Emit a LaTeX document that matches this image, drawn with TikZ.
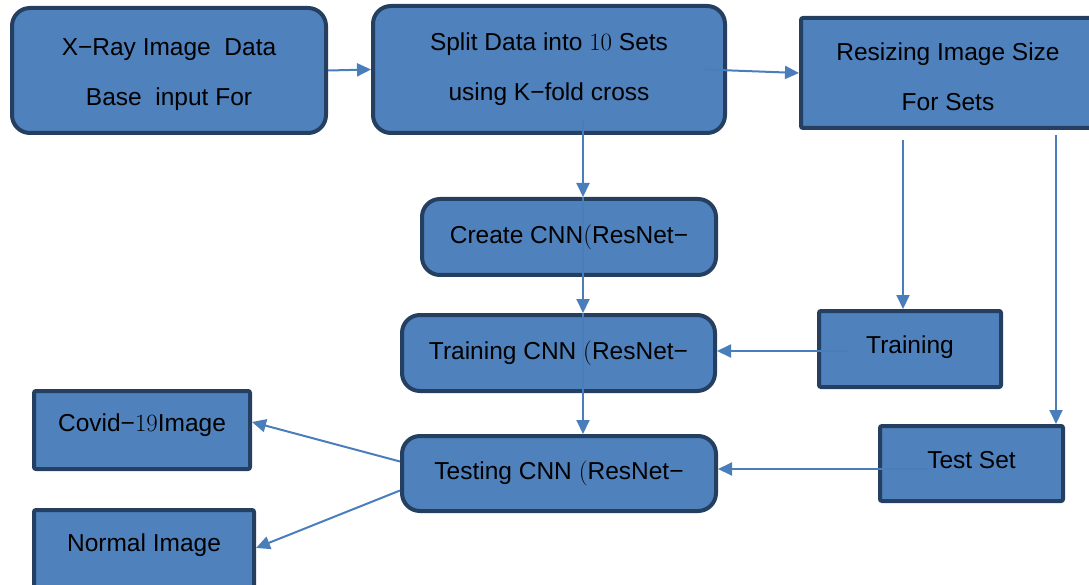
\documentclass[tikz,border=0pt]{standalone}
\usepackage{fontspec}
\setmainfont{Liberation Sans}
\usetikzlibrary{arrows.meta}
\definecolor{boxfill}{HTML}{4F81BD}
\definecolor{boxline}{HTML}{243F60}
\definecolor{flowline}{HTML}{4A7EBB}
% shift the ink of a text line but keep its size
\newcommand{\nudge}[2]{\raisebox{#1}[\height][\depth]{#2}}

\begin{document}
\begin{tikzpicture}[x=1pt, y=-1pt, font=\fontsize{24.5}{50}\selectfont,
        stage/.style={draw=boxline, fill=boxfill, line width=4pt, rounded corners=18pt,
            align=center, inner sep=0pt},
        plain/.style={stage, rounded corners=2pt},
        flow/.style={draw=flowline, line width=2pt, -{Triangle[length=14pt,width=13pt]}}]
        \useasboundingbox (0,0) rectangle (1089,585);
        % top row
        \node[stage, minimum width=314pt, minimum height=125pt] (xray) at (169,70.5) {\nudge{-4pt}{X−Ray Image\ \ Data}\\\nudge{-4pt}{Base\ \ input For}};
        \node[stage, minimum width=352pt, minimum height=127pt] (split) at (549,69.5) {Split Data into $10$ Sets\\using K−fold cross};
        \node[plain, minimum width=294pt, minimum height=110pt] (resize) at (948,73) {\nudge{-4pt}{Resizing Image Size}\\\nudge{-4pt}{For Sets}};
        % middle column
        \node[stage, minimum width=294pt, minimum height=76pt] (create) at (569,237) {Create CNN$($ResNet−};
        \node[stage, minimum width=313pt, minimum height=76pt] (traincnn) at (558.5,353) {Training CNN $($ResNet−};
        \node[stage, minimum width=314pt, minimum height=75pt] (testcnn) at (559,473.5) {Testing CNN $($ResNet−};
        % right side sets
        \node[plain, minimum width=182pt, minimum height=76pt] (training) at (910,349) {\nudge{2pt}{Training}};
        \node[plain, minimum width=183pt, minimum height=75pt] (testset) at (971.5,463.5) {\nudge{3pt}{Test Set}};
        % results
        \node[plain, minimum width=216pt, minimum height=78pt] (covid) at (142,430) {\nudge{5pt}{Covid−$19$Image}};
        \node[plain, minimum width=220pt, minimum height=80pt] (normal) at (144,550) {\nudge{5pt}{Normal Image}};

        \coordinate (splitout) at (583,120);
        \coordinate (r1) at (903,140);
        \coordinate (r2) at (1056,135);
        \coordinate (tr1) at (848,351);
        \coordinate (ts1) at (928,469);

        \draw[flow] (xray.east) -- (split.west);
        \draw[flow] ([xshift=-22pt]split.east) -- (resize.west);
        \draw[flow] (splitout) -- (splitout |- create.north);
        \draw[flow] (splitout |- create.north) -- (splitout |- traincnn.north);
        \draw[flow] (splitout |- traincnn.north) -- (splitout |- testcnn.north);
        \draw[flow] (r1) -- (r1 |- training.north);
        \draw[flow] (r2) -- (r2 |- testset.north);
        \draw[flow] (tr1) -- (tr1 -| traincnn.east);
        \draw[flow] (ts1) -- (ts1 -| testcnn.east);
        \draw[flow] ([yshift=12pt]testcnn.west) -- ([yshift=8pt]covid.east);
        \draw[flow] ([yshift=-17pt]testcnn.west) -- ([yshift=2pt]normal.east);
    \end{tikzpicture}
\end{document}
